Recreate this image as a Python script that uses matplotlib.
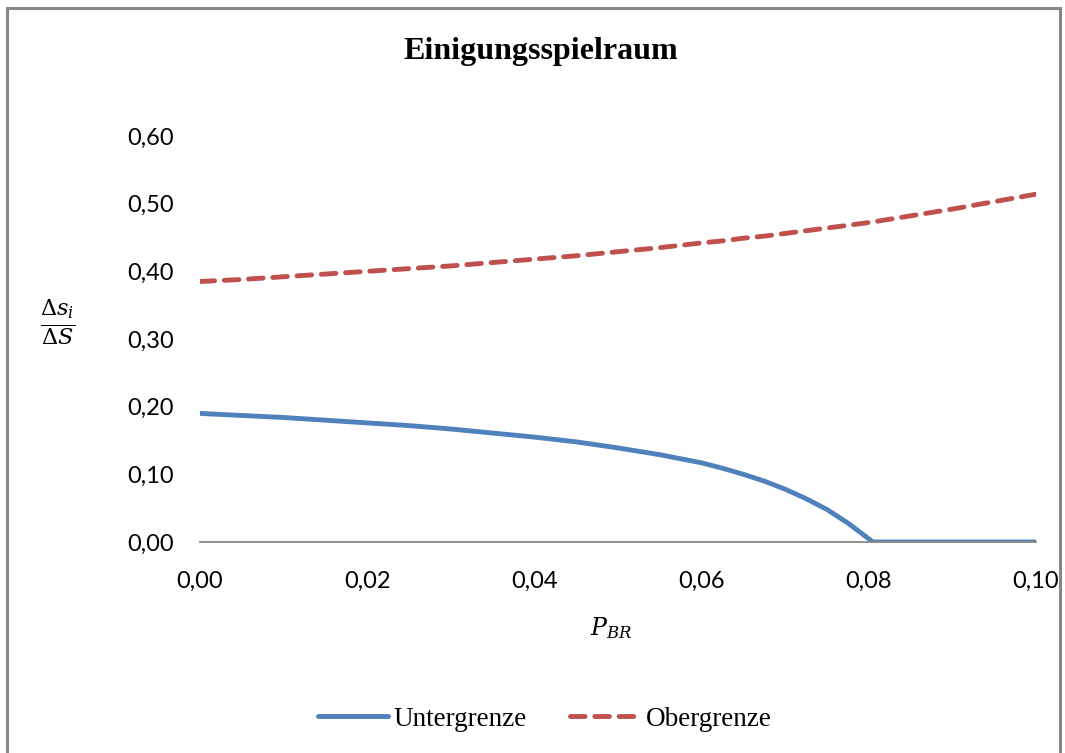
import numpy as np
import matplotlib
matplotlib.use("Agg")
import matplotlib.pyplot as plt
from matplotlib.patches import Rectangle
from matplotlib.ticker import FuncFormatter

# P_BR values
p_br = [0.000, 0.005, 0.010, 0.015, 0.020, 0.025, 0.030, 0.035, 0.040, 0.045,
        0.050, 0.055, 0.060, 0.0625, 0.065, 0.0675, 0.070, 0.0725, 0.075, 0.0775,
        0.0805, 0.085, 0.090, 0.095, 0.100]

untergrenze = [0.190, 0.187, 0.184, 0.180, 0.176, 0.172, 0.167, 0.161, 0.155, 0.148,
               0.139, 0.129, 0.117, 0.109, 0.100, 0.090, 0.078, 0.064, 0.048, 0.028,
               0.000, 0.000, 0.000, 0.000, 0.000]

obergrenze = [0.385, 0.388, 0.392, 0.396, 0.400, 0.404, 0.408, 0.413, 0.418, 0.423,
              0.429, 0.435, 0.442, 0.445, 0.449, 0.452, 0.456, 0.460, 0.464, 0.468,
              0.473, 0.482, 0.492, 0.503, 0.514]

x_ticks = [0.00, 0.02, 0.04, 0.06, 0.08, 0.10]
y_ticks = [0.00, 0.10, 0.20, 0.30, 0.40, 0.50, 0.60]

BLUE = '#4F81BD'
RED = '#C0504D'

plt.rcParams['mathtext.fontset'] = 'dejavuserif'

fig = plt.figure(figsize=(10.65, 7.53), dpi=100)
ax = fig.add_axes([200 / 1065, 211 / 753, 836 / 1065, 406 / 753])

# outer chart border
fig.patches.append(Rectangle((7 / 1065, -0.05), (1060 - 7) / 1065, (753 - 8) / 753 + 0.05,
                             transform=fig.transFigure, fill=False,
                             edgecolor='#878787', linewidth=2.2))

ax.plot(p_br, untergrenze, color=BLUE, linewidth=3.5, solid_capstyle='round',
        solid_joinstyle='round', label='Untergrenze')
ax.plot(p_br, obergrenze, color=RED, linewidth=3.5, dashes=(3, 2.0),
        dash_capstyle='round', label='Obergrenze')

ax.set_xlim(0, 0.10)
ax.set_ylim(0, 0.60)
ax.set_xticks(x_ticks)
ax.set_yticks(y_ticks)

comma = FuncFormatter(lambda v, pos: f"{v:.2f}".replace('.', ','))
ax.xaxis.set_major_formatter(comma)
ax.yaxis.set_major_formatter(comma)

for s in ['top', 'right', 'left']:
    ax.spines[s].set_visible(False)
ax.spines['bottom'].set_color('#888888')
ax.spines['bottom'].set_linewidth(1.3)
ax.tick_params(axis='both', length=0, labelsize=17, labelcolor='#000000')
ax.tick_params(axis='y', pad=19)
ax.tick_params(axis='x', pad=21)
for lbl in ax.get_xticklabels() + ax.get_yticklabels():
    lbl.set_fontfamily('Lato')

fig.text(541 / 1065, 1 - 51 / 753, 'Einigungsspielraum', ha='center', va='center',
         fontsize=23, fontweight='bold', family='Liberation Serif')

fig.text(58 / 1065, 1 - 322 / 753, r'$\frac{\Delta s_i}{\Delta S}$', ha='center',
         va='center', fontsize=23)
fig.text(611 / 1065, 1 - 628 / 753, r'$P_{BR}$', ha='center', va='center', fontsize=17)

leg = fig.legend(loc='center', bbox_to_anchor=(545 / 1065, 1 - 719 / 753), ncol=2,
                 frameon=False, prop={'family': 'Liberation Serif', 'size': 19.5},
                 handlelength=2.6, columnspacing=1.6, handletextpad=0.2)

fig.savefig('out.png', dpi=100, facecolor='white')
